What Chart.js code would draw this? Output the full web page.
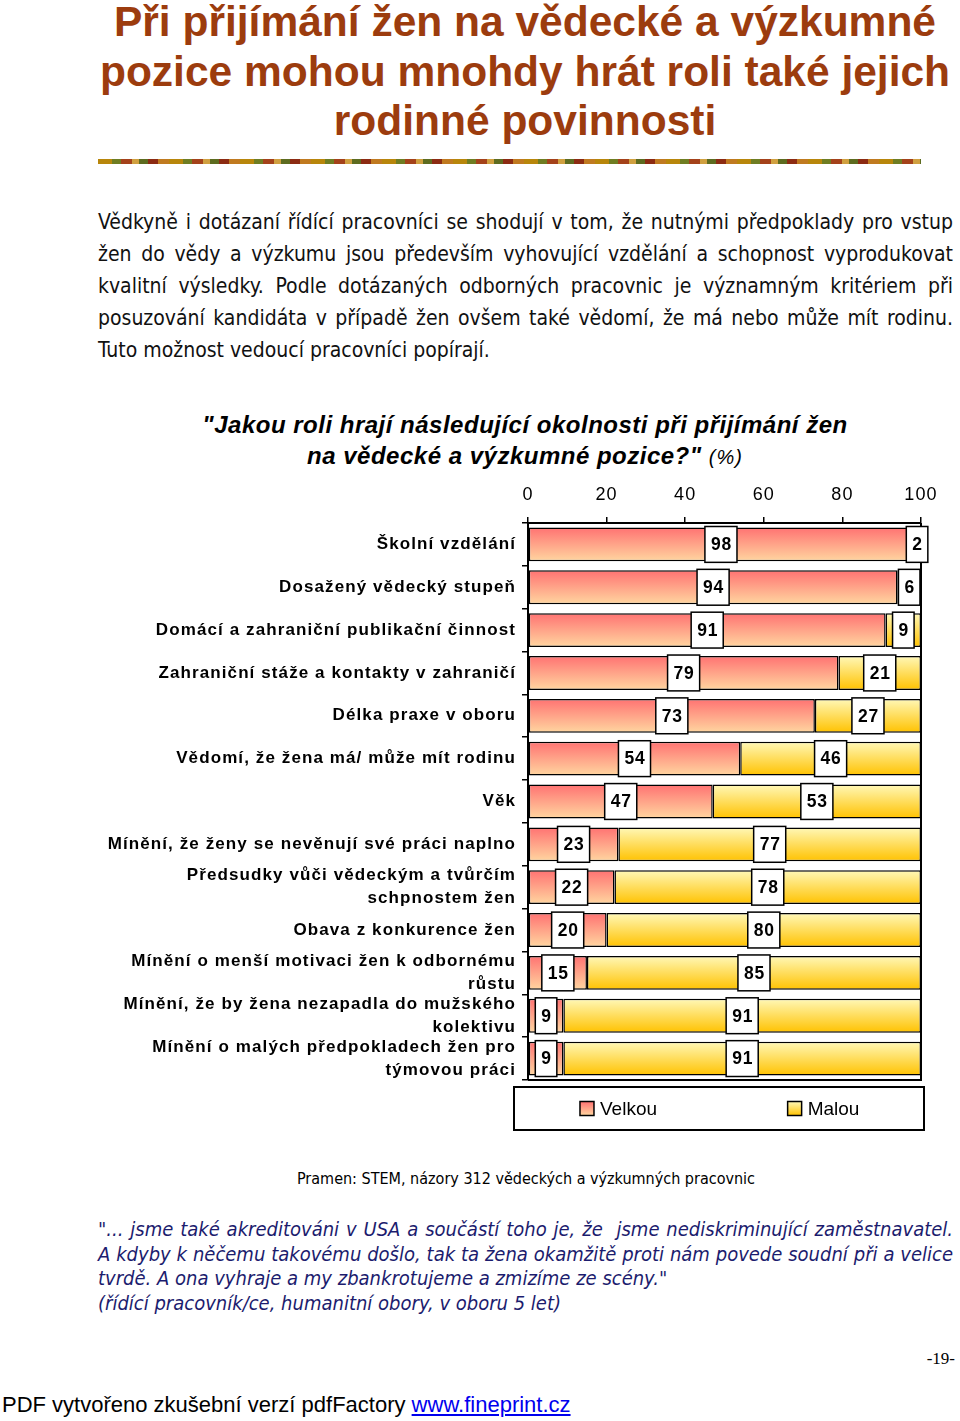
<!DOCTYPE html>
<html lang="cs">
<head>
<meta charset="utf-8">
<script src="https://cdn.jsdelivr.net/npm/chart.js@4/dist/chart.umd.min.js"></script>
<style>
  html,body{margin:0;padding:0;background:#fff;}
  body{position:relative;width:960px;height:1421px;overflow:hidden;font-family:"Liberation Sans",Arial,sans-serif;color:#000;}
  .abs{position:absolute;}
  .jl{display:block;text-align:justify;text-align-last:justify;}
  .ll{display:block;text-align:left;}
  #title{left:90px;width:870px;top:-3px;text-align:center;font-weight:bold;font-size:42.5px;line-height:49.5px;color:#9c3c0e;}
  #sep{left:98px;top:159px;width:823px;height:5px;
    background:repeating-linear-gradient(90deg,#b8860b 0 14px,#6f7d22 14px 23px,#a4421a 23px 34px,#d0a040 34px 41px,#5d6b1f 41px 50px,#8c2b12 50px 60px,#c07a20 60px 71px);}
  #para{left:98px;width:855px;top:206px;font-family:"Liberation Sans Narrow","Arial Narrow","DejaVu Sans Condensed",sans-serif;font-size:21px;line-height:32px;color:#111;}
  #question{left:90px;width:870px;top:409px;text-align:center;font-weight:bold;font-style:italic;font-size:24px;line-height:31px;letter-spacing:0.5px;}
  #question span{font-weight:normal;font-size:20px;letter-spacing:1px;}
  #chartbox{left:0;top:470px;width:960px;height:670px;}
  #source{left:96px;width:860px;top:1168px;text-align:center;font-family:"Liberation Sans Narrow","Arial Narrow","DejaVu Sans Condensed",sans-serif;font-size:16px;line-height:22px;}
  #quote{left:98px;width:855px;top:1217px;font-family:"Liberation Sans Narrow","Arial Narrow","DejaVu Sans Condensed",sans-serif;font-style:italic;font-size:20px;line-height:24.5px;color:#1c1c6e;}
  #page{right:5px;top:1349px;font-family:"Liberation Serif","Times New Roman",serif;font-size:17px;line-height:20px;}
  #footer{left:2px;top:1392px;font-size:22px;line-height:26px;}
  #footer a{color:#0000ee;text-decoration:underline;}
</style>
</head>
<body>
<div id="title" class="abs">Při přijímání žen na vědecké a výzkumné<br>pozice mohou mnohdy hrát roli také jejich<br>rodinné povinnosti</div>
<div id="sep" class="abs"></div>
<div id="para" class="abs">
  <span class="jl">Vědkyně i dotázaní řídící pracovníci se shodují v tom, že nutnými předpoklady pro vstup</span>
  <span class="jl">žen do vědy a výzkumu jsou především vyhovující vzdělání a schopnost vyprodukovat</span>
  <span class="jl">kvalitní výsledky. Podle dotázaných odborných pracovnic je významným kritériem při</span>
  <span class="jl">posuzování kandidáta v případě žen ovšem také vědomí, že má nebo může mít rodinu.</span>
  <span class="ll">Tuto možnost vedoucí pracovníci popírají.</span>
</div>
<div id="question" class="abs">"Jakou roli hrají následující okolnosti při přijímání žen<br>na vědecké a výzkumné pozice?" <span>(%)</span></div>
<div id="chartbox" class="abs"><canvas id="c" width="960" height="670"></canvas></div>
<div id="source" class="abs">Pramen: STEM, názory 312 vědeckých a výzkumných pracovnic</div>
<div id="quote" class="abs">
  <span class="jl">"... jsme také akreditováni v USA a součástí toho je, že&nbsp; jsme nediskriminující zaměstnavatel.</span>
  <span class="jl">A kdyby k něčemu takovému došlo, tak ta žena okamžitě proti nám povede soudní při a velice</span>
  <span class="ll">tvrdě. A ona vyhraje a my zbankrotujeme a zmizíme ze scény."</span>
  <span class="ll">(řídící pracovník/ce, humanitní obory, v oboru 5 let)</span>
</div>
<div id="page" class="abs">-19-</div>
<div id="footer" class="abs">PDF vytvořeno zkušební verzí pdfFactory <a>www.fineprint.cz</a></div>

<script>
// ---- data ----
const categories = [
  'Školní vzdělání',
  'Dosažený vědecký stupeň',
  'Domácí a zahraniční publikační činnost',
  'Zahraniční stáže a kontakty v zahraničí',
  'Délka praxe v oboru',
  'Vědomí, že žena má/ může mít rodinu',
  'Věk',
  'Mínění, že ženy se nevěnují své práci naplno',
  ['Předsudky vůči vědeckým a tvůrčím', 'schpnostem žen'],
  'Obava z konkurence žen',
  ['Mínění o menší motivaci žen k odbornému', 'růstu'],
  ['Mínění, že by žena nezapadla do mužského', 'kolektivu'],
  ['Mínění o malých předpokladech žen pro', 'týmovou práci']
];
const seriesNames = ['Velkou', 'Malou'];
const velkou = [98, 94, 91, 79, 73, 54, 47, 23, 22, 20, 15, 9, 9];
const malou  = [2, 6, 9, 21, 27, 46, 53, 77, 78, 80, 85, 91, 91];
const tickLabels = ['0', '20', '40', '60', '80', '100'];

// ---- styles ----
const gradStops = [
  ['#ff7272', '#ffd6a0'],
  ['#fff8b8', '#ffc200']
];
const BAR_PCT = 0.79;

function barGradient(context) {
  const chart = context.chart;
  const stops = gradStops[context.datasetIndex];
  if (!chart.chartArea || !chart.scales.y) return stops[0];
  const y = chart.scales.y;
  const band = (chart.chartArea.bottom - chart.chartArea.top) / categories.length;
  const c = y.getPixelForValue(context.dataIndex);
  const half = band * BAR_PCT / 2;
  const g = chart.ctx.createLinearGradient(0, c - half, 0, c + half);
  g.addColorStop(0, stops[0]);
  g.addColorStop(1, stops[1]);
  return g;
}

const spacingPlugin = {
  id: 'spacing',
  beforeDraw(chart) { chart.ctx.letterSpacing = '1.1px'; },
  afterDraw(chart) { chart.ctx.letterSpacing = '0px'; }
};

const framePlugin = {
  id: 'frame',
  afterDatasetsDraw(chart) {
    const {ctx, chartArea: a} = chart;
    ctx.save();
    ctx.strokeStyle = '#000';
    ctx.lineWidth = 2;
    ctx.beginPath();
    ctx.moveTo(a.right, a.top);
    ctx.lineTo(a.right, a.bottom);
    ctx.lineTo(a.left, a.bottom);
    ctx.stroke();
    ctx.restore();
  }
};

const valueLabels = {
  id: 'valueLabels',
  afterDatasetsDraw(chart) {
    const ctx = chart.ctx;
    ctx.save();
    ctx.letterSpacing = '0.8px';
    ctx.font = 'bold 17.5px "Liberation Sans", Arial, sans-serif';
    chart.data.datasets.forEach((ds, di) => {
      const meta = chart.getDatasetMeta(di);
      meta.data.forEach((bar, i) => {
        const txt = String(ds.data[i]);
        const cx = (bar.x + bar.base) / 2;
        const w = ctx.measureText(txt).width + 11;
        const h = bar.height + 2;
        ctx.fillStyle = '#fff';
        ctx.fillRect(cx - w / 2, bar.y - h / 2, w, h);
        ctx.strokeStyle = '#000';
        ctx.lineWidth = 1.5;
        ctx.strokeRect(cx - w / 2, bar.y - h / 2, w, h);
        ctx.fillStyle = '#000';
        ctx.textAlign = 'center';
        ctx.textBaseline = 'middle';
        ctx.fillText(txt, cx + 0.5, bar.y + 1);
      });
    });
    ctx.restore();
  }
};

const boxLegend = {
  id: 'boxLegend',
  afterDraw(chart) {
    const {ctx, chartArea: a} = chart;
    const left = a.left - 14, right = a.right + 3;
    const top = a.bottom + 7, bottom = a.bottom + 50;
    ctx.save();
    ctx.letterSpacing = '0px';
    ctx.strokeStyle = '#000';
    ctx.lineWidth = 2;
    ctx.strokeRect(left, top, right - left, bottom - top);
    ctx.font = '19px "Liberation Sans", Arial, sans-serif';
    ctx.textBaseline = 'middle';
    ctx.textAlign = 'left';
    const half = (right - left) / chart.data.datasets.length;
    const cy = (top + bottom) / 2;
    chart.data.datasets.forEach((ds, di) => {
      const tw = ctx.measureText(ds.label).width;
      const itemW = 14 + 6 + tw;
      const x0 = left + half * di + (half - itemW) / 2 + 2;
      const g = ctx.createLinearGradient(0, cy - 7, 0, cy + 7);
      g.addColorStop(0, gradStops[di][0]);
      g.addColorStop(1, gradStops[di][1]);
      ctx.fillStyle = g;
      ctx.fillRect(x0, cy - 7, 14, 14);
      ctx.lineWidth = 1.5;
      ctx.strokeRect(x0, cy - 7, 14, 14);
      ctx.fillStyle = '#000';
      ctx.fillText(ds.label, x0 + 20, cy + 1);
    });
    ctx.restore();
  }
};

new Chart(document.getElementById('c'), {
  type: 'bar',
  data: {
    labels: categories,
    datasets: [
      {label: seriesNames[0], data: velkou, backgroundColor: barGradient, borderColor: '#000', borderWidth: 1.5, borderSkipped: false, barPercentage: BAR_PCT, categoryPercentage: 1},
      {label: seriesNames[1], data: malou, backgroundColor: barGradient, borderColor: '#000', borderWidth: 1.5, borderSkipped: false, barPercentage: BAR_PCT, categoryPercentage: 1}
    ]
  },
  options: {
    indexAxis: 'y',
    responsive: false,
    animation: false,
    events: [],
    layout: {padding: {left: 0, right: 39, top: 0, bottom: 60}},
    plugins: {legend: {display: false}, tooltip: {enabled: false}},
    scales: {
      x: {
        position: 'top',
        stacked: true,
        min: 0, max: 100,
        ticks: {stepSize: 20, padding: 11, color: '#000',
          font: {family: '"Liberation Sans", Arial, sans-serif', size: 18},
          callback: (v) => tickLabels[v / 20]},
        grid: {drawOnChartArea: false, drawTicks: true, tickLength: 6, color: '#000', lineWidth: 1.5},
        border: {display: true, color: '#000', width: 2},
        afterFit: (s) => { s.height = 53; }
      },
      y: {
        stacked: true,
        ticks: {autoSkip: false, padding: 6, color: '#000',
          font: {family: '"Liberation Sans", Arial, sans-serif', size: 17, weight: 'bold', lineHeight: 1.36}},
        grid: {drawOnChartArea: false, drawTicks: true, tickLength: 6, color: '#000', lineWidth: 1.5, offset: true},
        border: {display: true, color: '#000', width: 2},
        afterFit: (s) => { s.width = 528; }
      }
    }
  },
  plugins: [spacingPlugin, framePlugin, valueLabels, boxLegend]
});
</script>
</body>
</html>
